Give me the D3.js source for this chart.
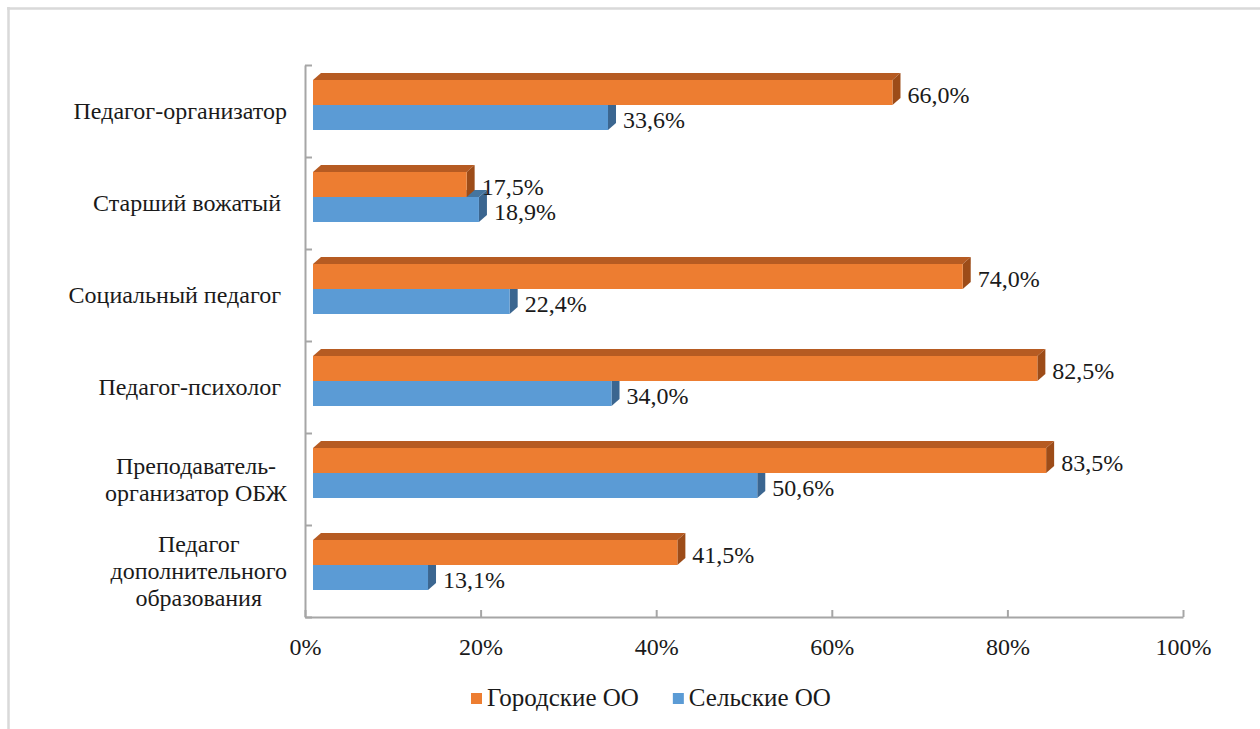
<!DOCTYPE html>
<html>
<head>
<meta charset="utf-8">
<script src="https://cdn.jsdelivr.net/npm/d3@7"></script>
<style>
  body { margin: 0; background: #fff; }
  svg { display: block; }
  svg text { font-family: 'Liberation Serif', 'DejaVu Serif', serif; white-space: pre; }
</style>
</head>
<body>
<svg id="chart" width="1260" height="729"></svg>
<script>
// categories, top to bottom (each one split into the lines shown on the axis)
const categories = [
  ['Педагог-организатор'],
  ['Старший вожатый '],
  ['Социальный педагог '],
  ['Педагог-психолог '],
  ['Преподаватель-', 'организатор ОБЖ'],
  ['Педагог', 'дополнительного', 'образования']
];
const seriesNames = ['Городские ОО', 'Сельские ОО'];
const urban = [66.0, 17.5, 74.0, 82.5, 83.5, 41.5];
const rural = [33.6, 18.9, 22.4, 34.0, 50.6, 13.1];
const xTicks = [0, 20, 40, 60, 80, 100];

const colors = {
  'Городские ОО': { front: '#ED7D31', top: '#B65B22', side: '#9D4C18' },
  'Сельские ОО': { front: '#5B9BD5', top: '#45759F', side: '#3B6690' }
};

const svg = d3.select('#chart');
const fmt = v => v.toFixed(1).replace('.', ',') + '%';
const fontSize = 24;
const textColor = '#1a1a1a';

// frame of the embedded chart (only top and left edges are inside the picture)
svg.append('line').attr('x1', 7).attr('x2', 1260).attr('y1', 8.5).attr('y2', 8.5)
  .attr('stroke', '#d9d9d9').attr('stroke-width', 2.5);
svg.append('line').attr('x1', 8.5).attr('x2', 8.5).attr('y1', 7).attr('y2', 729)
  .attr('stroke', '#d9d9d9').attr('stroke-width', 2.5);

const plot = { left: 305, right: 1183, top: 65, bottom: 617 };
const depth = { dx: 8, dy: 7 };

const x = d3.scaleLinear().domain([0, 100]).range([plot.left, plot.right]);
const catKeys = categories.map(c => c.join(' '));
const y = d3.scaleBand().domain(catKeys).range([plot.top, plot.bottom]);
const ySeries = d3.scaleBand().domain(seriesNames).range([15, 65]);
const yEdges = d3.scaleLinear().domain([0, categories.length]).range([plot.top, plot.bottom]);

// axes
const axisColor = '#a6a6a6';
const gx = svg.append('g')
  .attr('transform', `translate(0,${plot.bottom})`)
  .call(d3.axisBottom(x).tickValues(xTicks).tickSizeInner(-7).tickSizeOuter(0)
    .tickPadding(21).tickFormat(d => d + '%'))
  .attr('font-family', null).attr('font-size', null);
gx.selectAll('path, line').attr('stroke', axisColor).attr('stroke-width', 2);
gx.selectAll('text').attr('font-size', fontSize).attr('fill', textColor);

const gy = svg.append('g')
  .attr('transform', `translate(${plot.left},0)`)
  .call(d3.axisRight(yEdges).tickValues(d3.range(categories.length + 1))
    .tickSize(7).tickSizeOuter(0).tickFormat(''));
gy.selectAll('path, line').attr('stroke', axisColor).attr('stroke-width', 2);

// bars (blue first so the orange bar above hides its top face)
const rows = categories.map((c, i) => ({ key: catKeys[i], lines: c, 'Городские ОО': urban[i], 'Сельские ОО': rural[i] }));
const drawOrder = ['Сельские ОО', 'Городские ОО'];

drawOrder.forEach(s => {
  const g = svg.append('g');
  const bar = g.selectAll('g').data(rows).join('g');
  const x0 = d => x(0) + depth.dx;
  const x1 = d => x(d[s]) + depth.dx;
  const y0 = d => y(d.key) + ySeries(s);
  const y1 = d => y0(d) + ySeries.bandwidth();

  // top face
  bar.append('path')
    .attr('d', d => `M${x0(d)},${y0(d)} L${x0(d) + depth.dx},${y0(d) - depth.dy} L${x1(d) + depth.dx},${y0(d) - depth.dy} L${x1(d)},${y0(d)} Z`)
    .attr('fill', colors[s].top);
  // side face
  bar.append('path')
    .attr('d', d => `M${x1(d)},${y0(d)} L${x1(d) + depth.dx},${y0(d) - depth.dy} L${x1(d) + depth.dx},${y1(d) - depth.dy} L${x1(d)},${y1(d)} Z`)
    .attr('fill', colors[s].side);
  // front face
  bar.append('rect')
    .attr('x', x0).attr('y', y0)
    .attr('width', d => x1(d) - x0(d))
    .attr('height', ySeries.bandwidth())
    .attr('fill', colors[s].front);
});

// value labels
seriesNames.forEach(s => {
  svg.append('g').selectAll('text').data(rows).join('text')
    .attr('x', d => x(d[s]) + depth.dx + 15)
    .attr('y', d => y(d.key) + ySeries(s) + ySeries.bandwidth() / 2 + 10)
    .attr('font-size', fontSize)
    .attr('fill', textColor)
    .text(d => fmt(d[s]));
});

// category labels: block right-aligned to the axis, lines centred in the block
const labelRight = 287;
const lineH = 27;
const catG = svg.append('g').selectAll('g').data(rows).join('g');
catG.each(function(d) {
  const g = d3.select(this);
  const cy = y(d.key) + y.bandwidth() / 2;
  const n = d.lines.length;
  const texts = d.lines.map((ln, i) => g.append('text')
    .attr('font-size', fontSize).attr('fill', textColor)
    .attr('y', cy + (i - (n - 1) / 2) * lineH + 8)
    .text(ln));
  const widths = texts.map(t => t.node().getComputedTextLength());
  const maxW = d3.max(widths);
  texts.forEach(t => t.attr('x', labelRight - maxW / 2).attr('text-anchor', 'middle'));
});

// legend
const legend = svg.append('g').attr('transform', 'translate(471,698)');
let lx = 0;
seriesNames.forEach(s => {
  const item = legend.append('g').attr('transform', `translate(${lx},0)`);
  item.append('rect').attr('x', 0).attr('y', -5).attr('width', 11).attr('height', 11)
    .attr('fill', colors[s].front);
  const t = item.append('text').attr('x', 16).attr('y', 8)
    .attr('font-size', 25).attr('fill', textColor).text(s);
  lx += 16 + t.node().getComputedTextLength() + 34;
});
</script>
</body>
</html>
